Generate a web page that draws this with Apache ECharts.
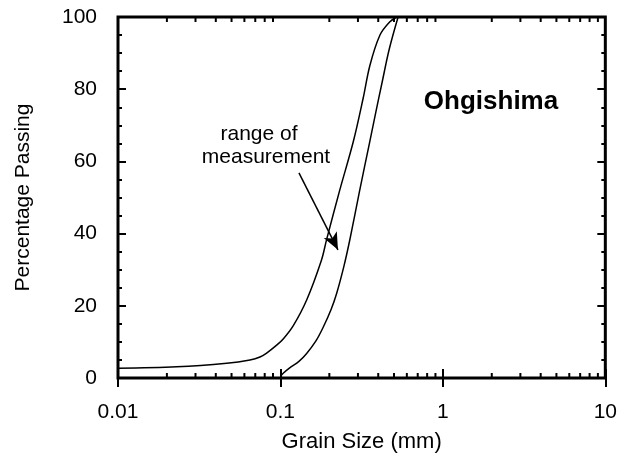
<!DOCTYPE html>
<html>
<head>
<meta charset="utf-8">
<script src="https://cdn.jsdelivr.net/npm/echarts@6/dist/echarts.min.js"></script>
<style>html,body{margin:0;padding:0;background:#fff}#c{width:620px;height:461px}</style>
</head>
<body>
<div id="c"></div>
<script>
// Grain size distribution bounds (mm, % passing)
const fineSize = [0.01, 0.023, 0.0467, 0.0649, 0.0748, 0.0822, 0.0948, 0.104, 0.120, 0.145, 0.179, 0.192, 0.232, 0.281, 0.323, 0.356, 0.410, 0.470, 0.52];
const finePct  = [2.7, 3.1, 4.1, 5.0, 5.8, 6.9, 9.1, 10.8, 14.5, 21.6, 32.7, 38.2, 52.1, 65.5, 77.5, 86.7, 95.0, 98.6, 100];
const coarseSize = [0.1, 0.104, 0.114, 0.13, 0.145, 0.165, 0.183, 0.205, 0.222, 0.246, 0.268, 0.306, 0.353, 0.388, 0.423, 0.467, 0.53];
const coarsePct  = [0.4, 1.3, 2.8, 4.6, 6.8, 10.2, 14.0, 19.0, 23.5, 31.0, 38.5, 51.5, 65.0, 74.0, 82.0, 91.0, 100];
const xMinorTicks = [0.02,0.03,0.04,0.05,0.06,0.07,0.08,0.09,0.2,0.3,0.4,0.5,0.6,0.7,0.8,0.9,2,3,4,5,6,7,8,9];
const arrowFrom = [0.130, 56.8];
const arrowTo = [0.226, 35.5];
const annotationLines = ['range of', 'measurement'];
const siteName = 'Ohgishima';

const FONT = 'Liberation Sans, Arial, Helvetica, sans-serif';
const chart = echarts.init(document.getElementById('c'), null, {renderer: 'canvas'});

const yCommon = {
  type: 'value', min: 0, max: 100, interval: 20,
  axisLine: {show: false},
  axisTick: {show: true, inside: true, length: 8, lineStyle: {color: '#000', width: 2}},
  minorTick: {show: true, splitNumber: 4, length: 4, lineStyle: {color: '#000', width: 2}},
  splitLine: {show: false}
};
const xCommon = {
  type: 'log', logBase: 10, min: 0.01, max: 10,
  axisLine: {show: false},
  axisTick: {show: true, inside: true, length: 9, lineStyle: {color: '#000', width: 2}},
  splitLine: {show: false}
};

function tickItem(params, api) {
  const v = api.value(0);
  const b = api.coord([v, 0]);
  const t = api.coord([v, 100]);
  const L = 5;
  return {
    type: 'group',
    children: [
      {type: 'line', shape: {x1: b[0], y1: b[1], x2: b[0], y2: b[1] - L}, style: {stroke: '#000', lineWidth: 2}},
      {type: 'line', shape: {x1: t[0], y1: t[1], x2: t[0], y2: t[1] + L}, style: {stroke: '#000', lineWidth: 2}}
    ]
  };
}

chart.setOption({
  animation: false,
  backgroundColor: '#fff',
  grid: {left: 118, right: 14.5, top: 17, bottom: 83, show: true, borderColor: '#000', borderWidth: 3, backgroundColor: 'transparent'},
  xAxis: [
    Object.assign({}, xCommon, {
      position: 'bottom',
      name: 'Grain Size (mm)', nameLocation: 'middle', nameGap: 53,
      nameTextStyle: {fontFamily: FONT, fontSize: 22, color: '#000'},
      axisLabel: {show: true, margin: 24, fontFamily: FONT, fontSize: 21, color: '#000',
        formatter: v => (v >= 1 ? String(Math.round(v)) : String(+v.toPrecision(1)))}
    }),
    Object.assign({}, xCommon, {position: 'top', axisLabel: {show: false}})
  ],
  yAxis: [
    Object.assign({}, yCommon, {
      position: 'left',
      name: 'Percentage Passing', nameLocation: 'middle', nameGap: 84, nameRotate: 90,
      nameTextStyle: {fontFamily: FONT, fontSize: 21, color: '#000'},
      axisLabel: {show: true, margin: 21, fontFamily: FONT, fontSize: 21, color: '#000'}
    }),
    Object.assign({}, yCommon, {position: 'right', axisLabel: {show: false}})
  ],
  graphic: [
    {type: 'text', style: {text: annotationLines[0], x: 259, y: 134, textAlign: 'center', textVerticalAlign: 'middle', font: '21px ' + FONT, fill: '#000'}},
    {type: 'text', style: {text: annotationLines[1], x: 266, y: 157, textAlign: 'center', textVerticalAlign: 'middle', font: '21px ' + FONT, fill: '#000'}},
    {type: 'text', style: {text: siteName, x: 491, y: 102, textAlign: 'center', textVerticalAlign: 'middle', font: 'bold 26px ' + FONT, fill: '#000'}}
  ],
  series: [
    {
      type: 'line', xAxisIndex: 0, yAxisIndex: 0,
      data: fineSize.map((s, i) => [s, finePct[i]]),
      showSymbol: false, smooth: 0.35,
      lineStyle: {color: '#000', width: 1.5},
      markLine: {
        silent: true, animation: false,
        symbol: ['none', 'arrow'], symbolSize: [11, 17],
        label: {show: false},
        lineStyle: {color: '#000', width: 1.5, type: 'solid'},
        data: [[{coord: arrowFrom}, {coord: arrowTo}]]
      }
    },
    {
      type: 'line', xAxisIndex: 0, yAxisIndex: 0,
      data: coarseSize.map((s, i) => [s, coarsePct[i]]),
      showSymbol: false, smooth: 0.35,
      lineStyle: {color: '#000', width: 1.5}
    },
    {
      type: 'custom', xAxisIndex: 0, yAxisIndex: 0,
      data: xMinorTicks.map(v => [v]),
      encode: {x: 0},
      renderItem: tickItem, clip: false, silent: true
    }
  ]
});
</script>
</body>
</html>
